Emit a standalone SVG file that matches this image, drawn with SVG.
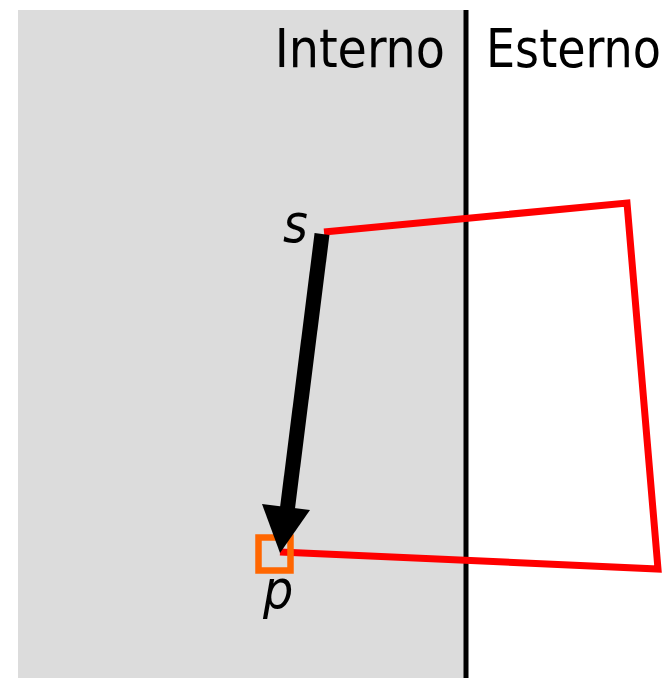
<svg xmlns="http://www.w3.org/2000/svg" width="668" height="678" viewBox="0 0 668 678">
<style>
.lbl{font-family:'DejaVu Sans Condensed','DejaVu Sans',sans-serif;font-stretch:condensed;font-size:53px;fill:#000}
.it{font-style:italic}
</style>
<rect width="668" height="678" fill="#fff"/>
<g id="interno">
<rect x="18" y="10" width="448" height="668" fill="#dcdcdc"/>
<text class="lbl" x="445" y="67" text-anchor="end">Interno</text>
</g>
<g id="esterno">
<text class="lbl" x="486" y="67" textLength="175" lengthAdjust="spacingAndGlyphs">Esterno</text>
</g>
<g id="confine">
<line x1="466" y1="10" x2="466" y2="678" stroke="#000" stroke-width="5"/>
</g>
<g id="poligono">
<polyline points="324,232 627,203 658,569 280,552" fill="none" stroke="#ff0000" stroke-width="7" stroke-linejoin="miter"/>
</g>
<g id="p">
<rect x="258.5" y="537.5" width="32" height="33" fill="none" stroke="#ff6600" stroke-width="6.5"/>
<text class="lbl it" x="263" y="608" font-size="56">p</text>
</g>
<g id="s">
<text class="lbl it" x="283" y="242" font-size="55">s</text>
</g>
<g id="connectors">
<line x1="322" y1="234" x2="287" y2="512" stroke="#000" stroke-width="15"/>
<polygon points="262,504 310,510 280,553" fill="#000"/>
</g>
</svg>
